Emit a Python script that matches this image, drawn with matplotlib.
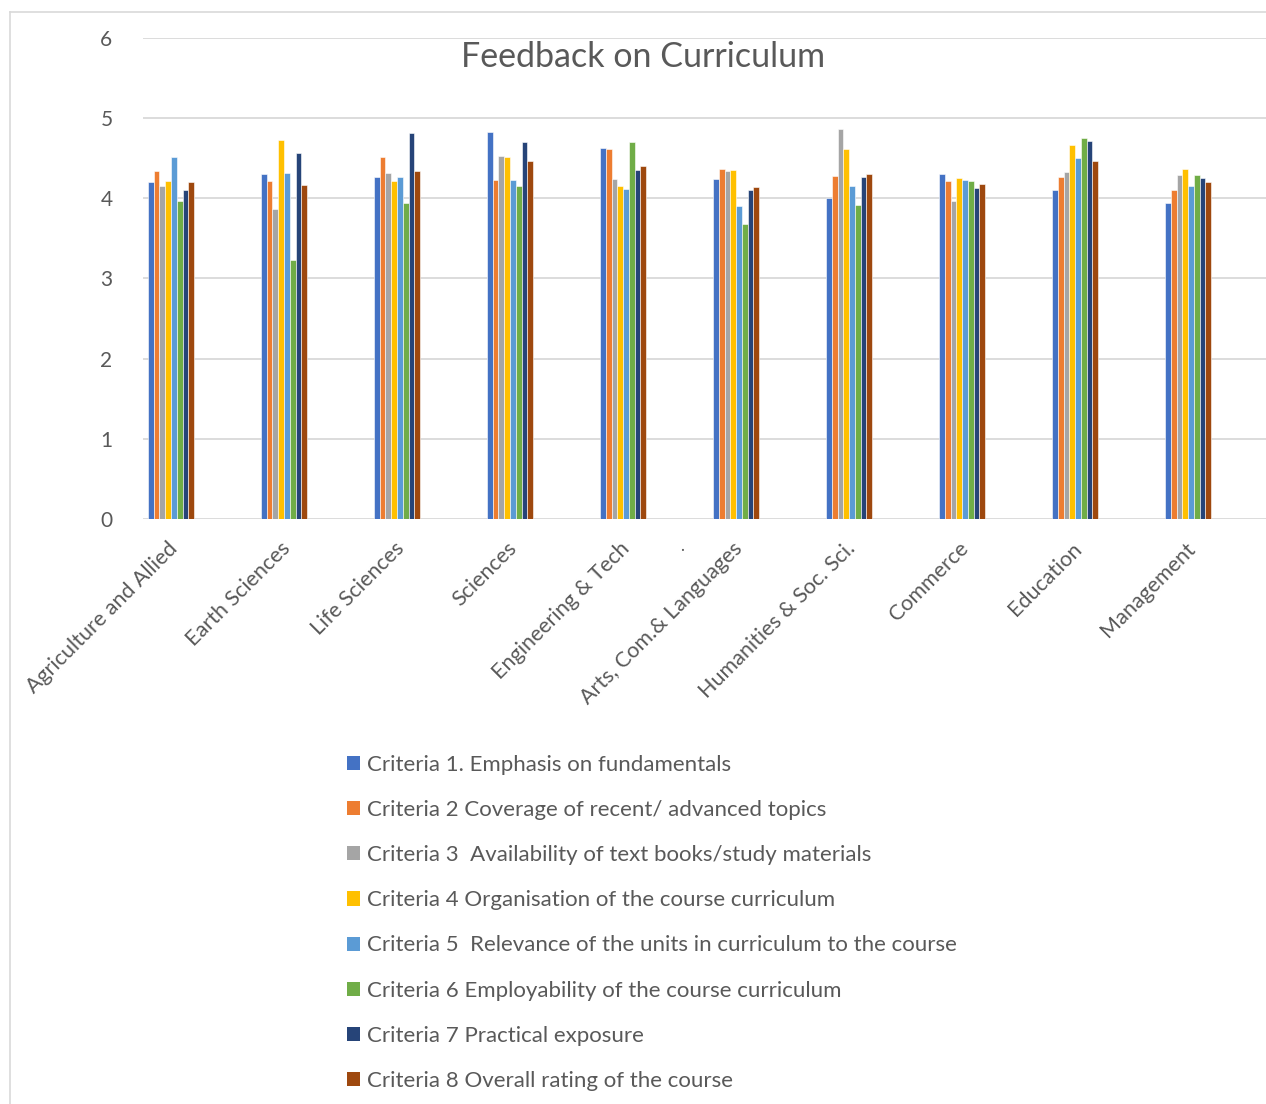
import matplotlib
matplotlib.use('Agg')
import matplotlib.pyplot as plt
from matplotlib.patches import Patch
from matplotlib.lines import Line2D
import numpy as np

TEXT_GREY = "#595959"
GRID_GREY = "#d9d9d9"

plt.rcParams.update({
    'font.family': ['Lato', 'DejaVu Sans'],
    'text.color': TEXT_GREY,
})

# ── Data ──────────────────────────────────────────────────────────────────────
categories = ["Agriculture and Allied", "Earth Sciences", "Life Sciences", "Sciences",
              "Engineering & Tech", "Arts, Com.& Languages", "Humanities & Soc. Sci.",
              "Commerce", "Education", "Management"]

criteria_labels = [
    "Criteria 1. Emphasis on fundamentals",
    "Criteria 2 Coverage of recent/ advanced topics",
    "Criteria 3  Availability of text books/study materials",
    "Criteria 4 Organisation of the course curriculum",
    "Criteria 5  Relevance of the units in curriculum to the course",
    "Criteria 6 Employability of the course curriculum",
    "Criteria 7 Practical exposure",
    "Criteria 8 Overall rating of the course",
]

c1 = [4.20, 4.30, 4.27, 4.83, 4.63, 4.24, 4.00, 4.30, 4.11, 3.94]
c2 = [4.34, 4.21, 4.52, 4.23, 4.61, 4.36, 4.28, 4.21, 4.26, 4.11]
c3 = [4.16, 3.87, 4.32, 4.53, 4.24, 4.34, 4.86, 3.97, 4.33, 4.29]
c4 = [4.22, 4.73, 4.22, 4.52, 4.15, 4.35, 4.61, 4.25, 4.66, 4.36]
c5 = [4.52, 4.31, 4.26, 4.23, 4.12, 3.91, 4.15, 4.23, 4.50, 4.16]
c6 = [3.97, 3.23, 3.94, 4.15, 4.70, 3.68, 3.92, 4.21, 4.75, 4.29]
c7 = [4.11, 4.56, 4.81, 4.70, 4.35, 4.10, 4.27, 4.13, 4.72, 4.25]
c8 = [4.20, 4.17, 4.34, 4.46, 4.40, 4.14, 4.30, 4.18, 4.47, 4.20]
series = [c1, c2, c3, c4, c5, c6, c7, c8]

colors = ["#4472C4", "#ED7D31", "#A5A5A5", "#FFC000",
          "#5B9BD5", "#70AD47", "#264478", "#9E480E"]

# ── Figure ────────────────────────────────────────────────────────────────────
W, H = 1266, 1104
fig = plt.figure(figsize=(W / 100, H / 100), dpi=100)
ax = fig.add_axes([143 / W, 1 - 519 / H, (W - 143) / W, (519 - 38) / H])

x = np.arange(len(categories))
bw = 0.051
n = len(series)
for i, (vals, col) in enumerate(zip(series, colors)):
    ax.bar(x + (i - (n - 1) / 2) * bw, vals, width=bw, color=col,
           edgecolor='white', lw=0.4, zorder=3)

ax.set_ylim(0, 6)
ax.set_xlim(-0.248, 9.69)
ax.set_yticks(range(0, 7))
ax.yaxis.grid(True, color=GRID_GREY, lw=1.3, zorder=0)
for s in ax.spines.values():
    s.set_visible(False)
ax.tick_params(axis='y', length=0, pad=22, labelsize=15, labelcolor=TEXT_GREY)
ax.tick_params(axis='x', length=0, pad=14, labelsize=15.5, labelcolor=TEXT_GREY)
ax.set_xticks(x - 0.03)
ax.set_xticklabels(categories, rotation=45, ha='right', rotation_mode='anchor')

fig.text(643 / W, 1 - 57 / H, "Feedback on Curriculum", ha='center', va='center',
         fontsize=24.5, color=TEXT_GREY)
fig.text(682 / W, 1 - 546 / H, ".", ha='center', va='center', fontsize=12, color=TEXT_GREY)

# chart frame (left and top edges visible)
fig.add_artist(Line2D([10 / W, 10 / W], [0, 1 - 12 / H], color=GRID_GREY, lw=1.2))
fig.add_artist(Line2D([10 / W, 1], [1 - 12 / H, 1 - 12 / H], color=GRID_GREY, lw=1.2))

handles = [Patch(facecolor=c, edgecolor='none') for c in colors]
fig.legend(handles, criteria_labels, loc='upper left',
           bbox_to_anchor=(327 / W, 1 - 735 / H), frameon=False, fontsize=16,
           labelspacing=1.13, handlelength=0.6, handleheight=0.6,
           handletextpad=0.3, labelcolor=TEXT_GREY)

fig.savefig("out.png", dpi=100)
